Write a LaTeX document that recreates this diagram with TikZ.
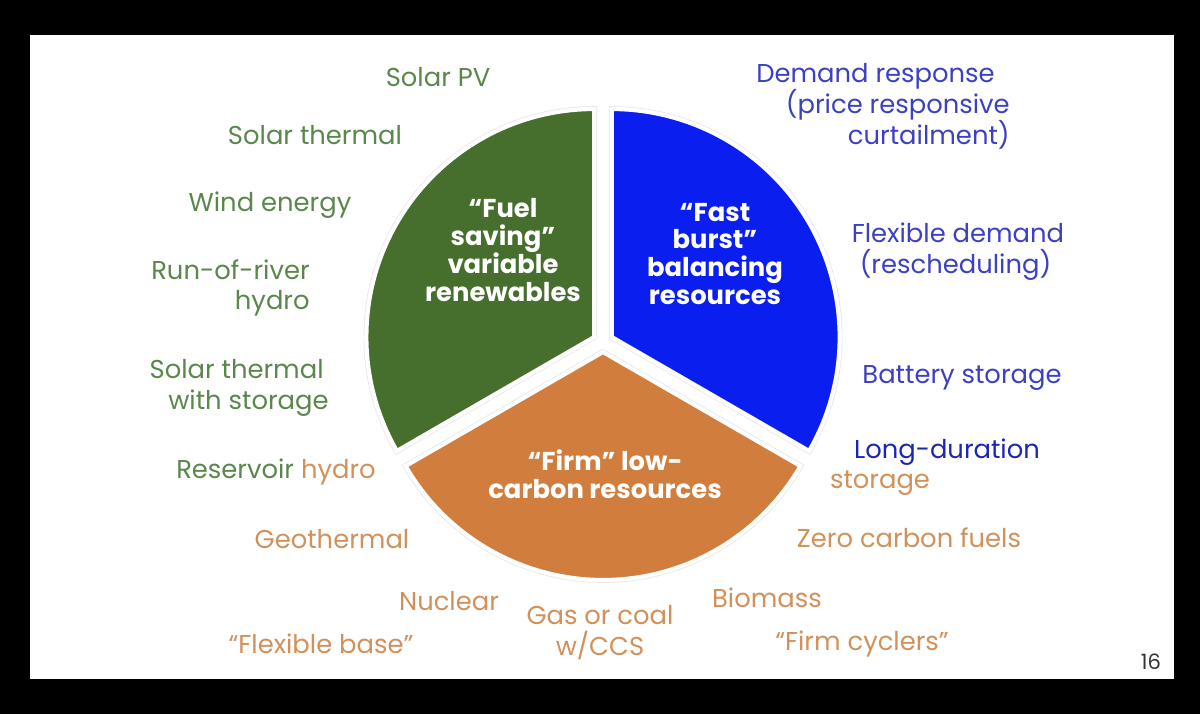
\documentclass[tikz,border=0pt]{standalone}
\usepackage{fontspec}
\usepackage{xcolor}
\setmainfont{Poppins}
\definecolor{fuelgreen}{HTML}{466E2D}
\definecolor{burstblue}{HTML}{0A1EF0}
\definecolor{firmorange}{HTML}{D07D3E}
\definecolor{greentxt}{HTML}{5A874B}
\definecolor{bluetxt}{HTML}{3C41C3}
\definecolor{darkbluetxt}{HTML}{1C26B0}
\definecolor{orangetxt}{HTML}{D2915A}
\begin{document}
\begin{tikzpicture}[x=0.02cm, y=0.02cm,
  lbl/.style={inner sep=0pt, font={\fontsize{14.7}{17.6}\selectfont}},
  greenlbl/.style={lbl, text=greentxt},
  bluelbl/.style={lbl, text=bluetxt},
  orangelbl/.style={lbl, text=orangetxt},
  inlbl/.style={inner sep=0pt, text=white, align=center, font={\fontsize{14.7}{15.9}\selectfont\bfseries}},
  rim/.style={draw=black!10, line width=3.2pt},
  sector/.style={draw=white, line width=2.4pt, line join=miter}]
% slide
\fill[black] (0,0) rectangle (1200,714);
\fill[white] (30,35) rectangle (1174,679);
\coordinate (c) at (603,372);

% pie sectors
\path[rim] ([shift={(150:10)}]c) -- ++(90:228) arc[start angle=90, end angle=210, radius=228] -- cycle;
\path[rim] ([shift={(30:10)}]c) -- ++(-30:228) arc[start angle=-30, end angle=90, radius=228] -- cycle;
\path[rim] ([shift={(270:10)}]c) -- ++(210:228) arc[start angle=210, end angle=330, radius=228] -- cycle;
\filldraw[sector, fill=fuelgreen] ([shift={(150:10)}]c) -- ++(90:228) arc[start angle=90, end angle=210, radius=228] -- cycle;
\filldraw[sector, fill=burstblue] ([shift={(30:10)}]c) -- ++(-30:228) arc[start angle=-30, end angle=90, radius=228] -- cycle;
\filldraw[sector, fill=firmorange] ([shift={(270:10)}]c) -- ++(210:228) arc[start angle=210, end angle=330, radius=228] -- cycle;

\node (fuelsav) [inlbl] at (503,464) {“Fuel\\saving”\\variable\\renewables};
\node (fastburst) [inlbl] at (715,460) {“Fast\\burst”\\balancing\\resources};
\node (firmlow) [inlbl] at (605,240) {“Firm” low-\\carbon resources};

% fuel saving resources
\node (solarpv) [greenlbl] at (438,637) {Solar PV};
\node (solarth) [greenlbl] at (315,579) {Solar thermal};
\node (wind) [greenlbl] at (270,509) {Wind energy};
\node (runriver) [greenlbl, align=right, anchor=east] at (310,426) {Run-of-river\\hydro};
\node (solarst) [greenlbl, align=right, anchor=east] at (329,326) {Solar thermal\hspace*{0.1cm}\\with storage};
\node (reservoir) [greenlbl] at (276,242) {Reservoir \textcolor{orangetxt}{hydro}};

% firm resources
\node (geo) [orangelbl] at (332,175) {Geothermal};
\node (nuclear) [orangelbl] at (449,113) {Nuclear};
\node (flexbase) [orangelbl] at (321,70) {“Flexible base”};
\node (gascoal) [orangelbl, align=center] at (600,81) {Gas or coal\\w/CCS};
\node (biomass) [orangelbl] at (767,116) {Biomass};
\node (firmcyc) [orangelbl] at (862,70) {“Firm cyclers”};
\node (zerocarb) [orangelbl] at (909,176) {Zero carbon fuels};
\node (storage) [orangelbl] at (880,231) {storage};

% fast burst resources
\node (longdur) [bluelbl, text=darkbluetxt] at (947,262) {Long-duration};
\node (battery) [bluelbl] at (962,336) {Battery storage};
\node (flexdem) [bluelbl, align=center] at (958,462) {Flexible demand\\(rescheduling)\hspace*{0.1cm}};
\node (demand) [bluelbl, align=right, anchor=east] at (1010,608) {Demand response\hspace*{0.3cm}\\(price responsive\\curtailment)};

\node (page) [lbl, text=black!80, font={\fontsize{12}{14}\selectfont}] at (1151,52) {16};
\end{tikzpicture}
\end{document}
